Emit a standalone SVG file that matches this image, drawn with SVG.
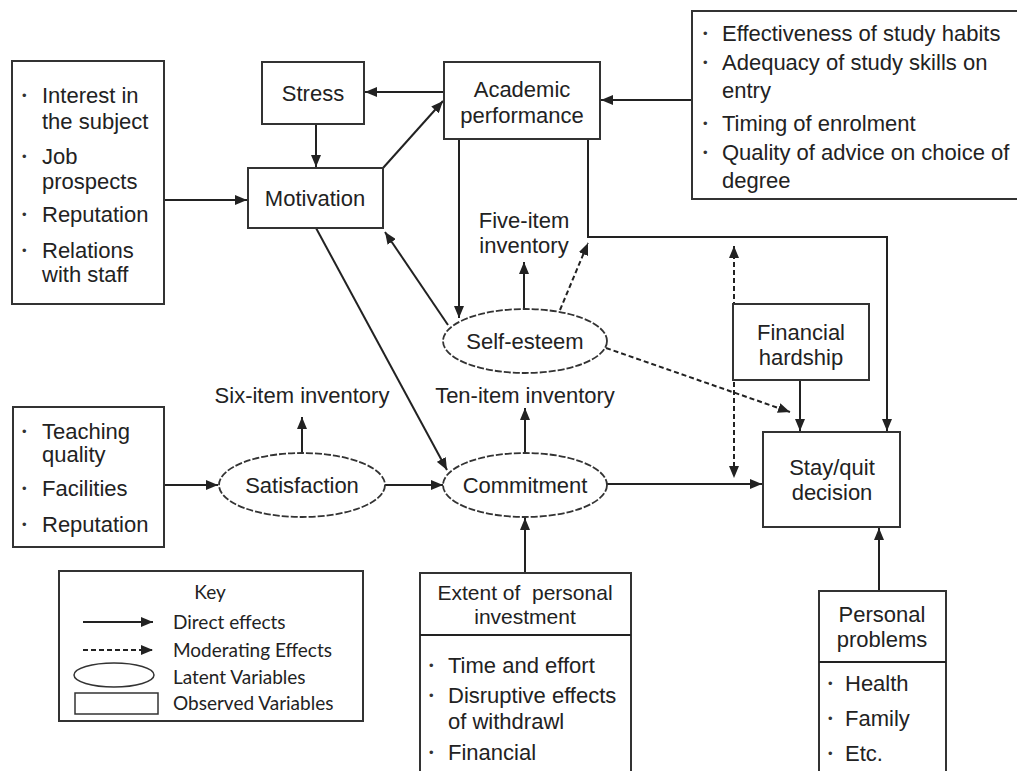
<svg xmlns="http://www.w3.org/2000/svg" width="1017" height="771" viewBox="0 0 1017 771">
  <defs>
    <style>
      .box { fill: #fff; stroke: #333; stroke-width: 2; }
      .latent { fill: #fff; stroke: #333; stroke-width: 1.8; stroke-dasharray: 7 2; }
      .t { font-family: "Liberation Sans", Arial, sans-serif; font-size: 22px; fill: #222; }
      .h { font-size: 21px; }
      .c { text-anchor: middle; }
      .b { font-family: "Liberation Sans", Arial, sans-serif; font-size: 13px; fill: #333; }
      .k { font-family: Lato, "Noto Sans", sans-serif; font-size: 19px; fill: #222; }
      .ln { fill: none; stroke: #222; stroke-width: 2; }
      .dash { fill: none; stroke: #222; stroke-width: 2; stroke-dasharray: 5 3; }
      .arr { marker-end: url(#ah); }
    </style>
    <marker id="ah" viewBox="0 0 12 10" refX="12" refY="5" markerWidth="12" markerHeight="10" markerUnits="userSpaceOnUse" orient="auto-start-reverse">
      <path d="M0,0 L12,5 L0,10 z" fill="#222"/>
    </marker>
  </defs>
  <rect width="1017" height="771" fill="#fff"/>

  <!-- connectors -->
  <g id="connectors">
    <path class="ln arr" d="M164,200 H247"/>
    <path class="ln arr" d="M444,92 H365"/>
    <path class="ln arr" d="M316,124 V167"/>
    <path class="ln arr" d="M383,168 L443,101"/>
    <path class="ln arr" d="M692,100 H601"/>
    <path class="ln arr" d="M459,139 V318"/>
    <path class="ln arr" d="M524,308 V262"/>
    <path class="ln arr" d="M448,325 L385,232"/>
    <path class="dash arr" d="M560,310 L588,243"/>
    <path class="dash arr" d="M606,348 L790,412"/>
    <path class="ln arr" d="M588,139 V237 H887 V431"/>
    <path class="ln arr" d="M800,380 V431"/>
    <path class="dash arr" d="M734,246 V478" marker-start="url(#ah)"/>
    <path class="ln arr" d="M607,484 H762"/>
    <path class="ln arr" d="M316,228 L447,470"/>
    <path class="ln arr" d="M302,452 V417"/>
    <path class="ln arr" d="M525,452 V408"/>
    <path class="ln arr" d="M164,485 H218"/>
    <path class="ln arr" d="M385,485 H443"/>
    <path class="ln arr" d="M525,573 V518"/>
    <path class="ln arr" d="M879,591 V528"/>
  </g>

  <!-- motivation factors -->
  <g id="motivation-factors">
    <rect class="box" x="12" y="61" width="152" height="243"/>
    <text class="b" x="22" y="100">•</text>
    <text class="t" x="42" y="103">Interest in</text>
    <text class="t" x="42" y="129">the subject</text>
    <text class="b" x="22" y="161">•</text>
    <text class="t" x="42" y="164">Job</text>
    <text class="t" x="42" y="189">prospects</text>
    <text class="b" x="22" y="219">•</text>
    <text class="t" x="42" y="222">Reputation</text>
    <text class="b" x="22" y="255">•</text>
    <text class="t" x="42" y="258">Relations</text>
    <text class="t" x="42" y="282">with staff</text>
  </g>

  <g id="stress">
    <rect class="box" x="262" y="62" width="102" height="62"/>
    <text class="t c" x="313" y="101">Stress</text>
  </g>

  <g id="motivation">
    <rect class="box" x="248" y="168" width="135" height="60"/>
    <text class="t c" x="315" y="206">Motivation</text>
  </g>

  <g id="academic-performance">
    <rect class="box" x="444" y="62" width="156" height="77"/>
    <text class="t c" x="522" y="97">Academic</text>
    <text class="t c" x="522" y="123">performance</text>
  </g>

  <g id="study-factors">
    <rect class="box" x="692" y="11" width="335" height="188"/>
    <text class="b" x="703" y="38">•</text>
    <text class="t" x="722" y="41">Effectiveness of study habits</text>
    <text class="b" x="703" y="67">•</text>
    <text class="t" x="722" y="70">Adequacy of study skills on</text>
    <text class="t" x="722" y="98">entry</text>
    <text class="b" x="703" y="128">•</text>
    <text class="t" x="722" y="131">Timing of enrolment</text>
    <text class="b" x="703" y="157">•</text>
    <text class="t" x="722" y="160">Quality of advice on choice of</text>
    <text class="t" x="722" y="188">degree</text>
  </g>

  <g id="five-item-inventory">
    <text class="t c" x="524" y="228">Five-item</text>
    <text class="t c" x="524" y="253">inventory</text>
  </g>

  <g id="self-esteem">
    <ellipse class="latent" cx="525" cy="341" rx="82" ry="32"/>
    <text class="t c" x="525" y="349">Self-esteem</text>
  </g>

  <g id="financial-hardship">
    <rect class="box" x="733" y="304" width="136" height="76"/>
    <text class="t c" x="801" y="340">Financial</text>
    <text class="t c" x="801" y="365">hardship</text>
  </g>

  <g id="stay-quit">
    <rect class="box" x="763" y="432" width="137" height="95"/>
    <text class="t c" x="832" y="475">Stay/quit</text>
    <text class="t c" x="832" y="500">decision</text>
  </g>

  <g id="six-item-inventory">
    <text class="t c" x="302" y="403">Six-item inventory</text>
  </g>

  <g id="ten-item-inventory">
    <text class="t c" x="525" y="403">Ten-item inventory</text>
  </g>

  <g id="satisfaction-factors">
    <rect class="box" x="13" y="407" width="151" height="140"/>
    <text class="b" x="22" y="436">•</text>
    <text class="t" x="42" y="439">Teaching</text>
    <text class="t" x="42" y="462">quality</text>
    <text class="b" x="22" y="493">•</text>
    <text class="t" x="42" y="496">Facilities</text>
    <text class="b" x="22" y="529">•</text>
    <text class="t" x="42" y="532">Reputation</text>
  </g>

  <g id="satisfaction">
    <ellipse class="latent" cx="302" cy="485" rx="83" ry="32"/>
    <text class="t c" x="302" y="493">Satisfaction</text>
  </g>

  <g id="commitment">
    <ellipse class="latent" cx="525" cy="485" rx="82" ry="32"/>
    <text class="t c" x="525" y="493">Commitment</text>
  </g>

  <g id="personal-investment">
    <rect class="box" x="420" y="573" width="211" height="210"/>
    <line class="ln" x1="420" y1="635" x2="631" y2="635" stroke-width="1.5"/>
    <text class="t h c" x="525" y="600">Extent of&#160; personal</text>
    <text class="t h c" x="525" y="624">investment</text>
    <text class="b" x="429" y="670">•</text>
    <text class="t" x="448" y="673">Time and effort</text>
    <text class="b" x="429" y="700">•</text>
    <text class="t" x="448" y="703">Disruptive effects</text>
    <text class="t" x="448" y="729">of withdrawl</text>
    <text class="b" x="429" y="757">•</text>
    <text class="t" x="448" y="760">Financial</text>
  </g>

  <g id="personal-problems">
    <rect class="box" x="819" y="591" width="127" height="192"/>
    <line class="ln" x1="819" y1="662" x2="946" y2="662" stroke-width="1.5"/>
    <text class="t c" x="882" y="622">Personal</text>
    <text class="t c" x="882" y="647">problems</text>
    <text class="b" x="828" y="688">•</text>
    <text class="t" x="845" y="691">Health</text>
    <text class="b" x="828" y="723">•</text>
    <text class="t" x="845" y="726">Family</text>
    <text class="b" x="828" y="758">•</text>
    <text class="t" x="845" y="761">Etc.</text>
  </g>

  <g id="key">
    <rect class="box" x="59" y="571" width="304" height="150" stroke-width="1.5"/>
    <text class="k c" x="210" y="599">Key</text>
    <path class="ln arr" d="M83,622 H153"/>
    <text class="k" x="173" y="629">Direct effects</text>
    <path class="dash arr" d="M83,650 H153"/>
    <text class="k" x="173" y="657">Moderating Effects</text>
    <ellipse cx="114" cy="675" rx="40" ry="12" fill="#fff" stroke="#333" stroke-width="1.5"/>
    <text class="k" x="173" y="684">Latent Variables</text>
    <rect x="75" y="693" width="83" height="21" fill="#fff" stroke="#333" stroke-width="1.5"/>
    <text class="k" x="173" y="710">Observed Variables</text>
  </g>
</svg>
